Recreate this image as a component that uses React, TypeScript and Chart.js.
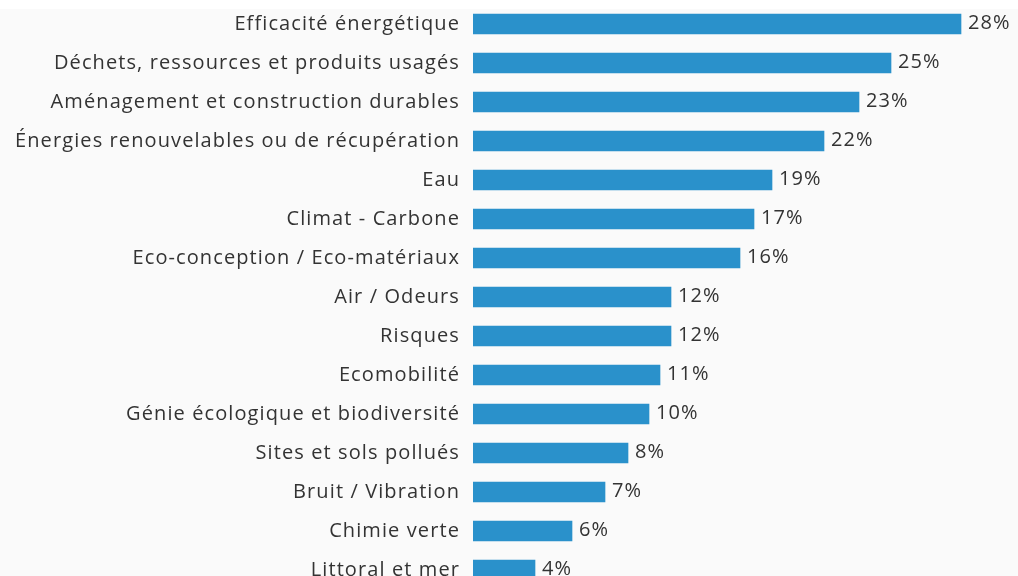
import React, { useEffect, useRef } from "react";
import { Chart, registerables } from "chart.js";

Chart.register(...registerables);

const categories: string[] = [
  "Efficacité énergétique",
  "Déchets, ressources et produits usagés",
  "Aménagement et construction durables",
  "Énergies renouvelables ou de récupération",
  "Eau",
  "Climat - Carbone",
  "Eco-conception / Eco-matériaux",
  "Air / Odeurs",
  "Risques",
  "Ecomobilité",
  "Génie écologique et biodiversité",
  "Sites et sols pollués",
  "Bruit / Vibration",
  "Chimie verte",
  "Littoral et mer",
];

const barValues: number[] = [48.8, 41.8, 38.6, 35.1, 29.9, 28.1, 26.7, 19.8, 19.8, 18.7, 17.6, 15.5, 13.2, 9.9, 6.2];

const valueLabels: string[] = ["28%", "25%", "23%", "22%", "19%", "17%", "16%", "12%", "12%", "11%", "10%", "8%", "7%", "6%", "4%"];

const xMax = 54.5;

const FONT = "'Open Sans', sans-serif";
const FONT_SIZE = 20;
const LETTER_SPACING = "1.1px";
const TEXT_COLOR = "#333333";
const BAR_COLOR = "#2a91cb";

const spacingPlugin = {
  id: "letterSpacing",
  beforeDraw(chart: any) {
    (chart.ctx as any).letterSpacing = LETTER_SPACING;
  },
};

const valueLabelPlugin = {
  id: "valueLabels",
  afterDatasetsDraw(chart: any) {
    const ctx = chart.ctx;
    const meta = chart.getDatasetMeta(0);
    ctx.save();
    (ctx as any).letterSpacing = LETTER_SPACING;
    ctx.font = `${FONT_SIZE}px ${FONT}`;
    ctx.fillStyle = TEXT_COLOR;
    ctx.textAlign = "left";
    ctx.textBaseline = "middle";
    meta.data.forEach((bar: any, i: number) => {
      ctx.fillText(valueLabels[i], bar.x + 7, bar.y - 1);
    });
    ctx.restore();
  },
};

export default function App() {
  const canvasRef = useRef<HTMLCanvasElement | null>(null);

  useEffect(() => {
    if (!canvasRef.current) return;
    const chart = new Chart(canvasRef.current, {
      type: "bar",
      data: {
        labels: categories,
        datasets: [
          {
            data: barValues,
            backgroundColor: BAR_COLOR,
            borderWidth: 0,
            barThickness: 20,
          },
        ],
      },
      options: {
        indexAxis: "y",
        animation: false,
        responsive: false,
        layout: { padding: { top: 4.5, bottom: 10.5, left: 0, right: 0 } },
        plugins: {
          legend: { display: false },
          tooltip: { enabled: false },
        },
        scales: {
          x: {
            display: false,
            min: 0,
            max: xMax,
          },
          y: {
            grid: { display: false, drawTicks: false },
            border: { display: false },
            ticks: {
              color: TEXT_COLOR,
              font: { family: FONT, size: FONT_SIZE },
              padding: 13,
            },
            afterFit(scale: any) {
              scale.width = 473;
              scale.paddingTop = 0;
              scale.paddingBottom = 0;
            },
          },
        },
      },
      plugins: [spacingPlugin, valueLabelPlugin],
    });
    return () => chart.destroy();
  }, []);

  return (
    <div
      style={{
        position: "fixed",
        top: 0,
        left: 0,
        width: 1018,
        height: 600,
        background: "linear-gradient(#ffffff 0px, #ffffff 9px, #fafafa 9px, #fafafa 100%)",
      }}
    >
      <canvas ref={canvasRef} width={1018} height={600} style={{ width: 1018, height: 600, display: "block" }} />
    </div>
  );
}
